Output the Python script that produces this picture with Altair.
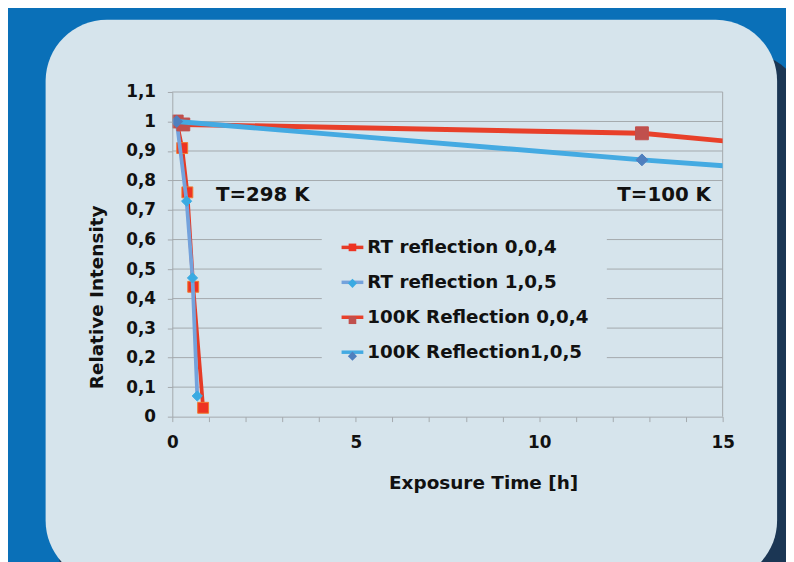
import altair as alt
import pandas as pd

# ---------------- data ----------------
series_names = ["RT reflection 0,0,4", "RT reflection 1,0,5",
                "100K Reflection 0,0,4", "100K Reflection1,0,5"]

rt004_x = [0.12, 0.27, 0.41, 0.57, 0.84]
rt004_y = [1.0, 0.91, 0.76, 0.44, 0.03]
rt105_x = [0.12, 0.39, 0.55, 0.68]
rt105_y = [1.0, 0.73, 0.47, 0.07]
k004_x = [0.12, 0.30, 12.8, 24.0]
k004_y = [1.0, 0.99, 0.96, 0.83]
k105_x = [0.12, 12.8, 24.0]
k105_y = [1.0, 0.87, 0.77]

y_ticks = [round(i * 0.1, 1) for i in range(12)]
x_ticks = list(range(16))

ann_text = ["T=298 K", "T=100 K"]
ann_x = [1.19, 14.68]
ann_y = [0.751, 0.751]

# ---------------- styles ----------------
FONT = "DejaVu Sans"
TXT = "#111111"
GRID = "#a4a9ad"
PANEL = "#d6e4ec"
BLUE_BG = "#0a70b8"
SHADOW = "#1b3654"
line_colors = ["#e63b26", "#74a2dc", "#e8402a", "#44aae2"]
marker_colors = ["#ee3322", "#3aaae2", "#c0504d", "#4f7fbe"]
marker_strokes = ["#f07a30", "#3aaae2", "#c0504d", "#4f7fbe"]
SQ = "M-0.35,-0.35H0.35V0.35H-0.35Z"
DI = "M0,-0.42L0.42,0L0,0.42L-0.42,0Z"
shapes = [SQ, DI, SQ, DI]
marker_names = [s + " " for s in series_names]

rows = []
for name, xs, ys in zip(series_names, [rt004_x, rt105_x, k004_x, k105_x],
                        [rt004_y, rt105_y, k004_y, k105_y]):
    for xv, yv in zip(xs, ys):
        rows.append({"series": name, "marker": name + " ", "x": xv, "y": yv})
df = pd.DataFrame(rows)
df_ann = pd.DataFrame({"t": ann_text, "x": ann_x, "y": ann_y})
df_grid = pd.DataFrame({"v": y_ticks[1:]})
dummy = pd.DataFrame({"a": [0]})

x_scale = alt.Scale(domain=[0, 15], nice=False, zero=False)
y_scale = alt.Scale(domain=[0, 1.1], nice=False)

x_axis = alt.Axis(values=x_ticks,
                  labelExpr="datum.value % 5 == 0 ? datum.label : ''",
                  grid=False, tickSize=5, tickColor=GRID, domainColor=GRID,
                  labelFont=FONT, labelFontSize=17, labelFontWeight="bold",
                  labelColor=TXT, labelPadding=13, labelFlush=False,
                  labelOverlap=False,
                  title="Exposure Time [h]", titleFont=FONT, titleFontSize=18.6,
                  titleFontWeight="bold", titleColor=TXT, titleX=314,
                  titleY=67, titleBaseline="middle", titleAlign="center",
                  zindex=1)
y_axis = alt.Axis(values=y_ticks,
                  labelExpr="replace(format(datum.value, '~g'), '.', ',')",
                  grid=False, tickSize=5, tickColor=GRID, domainColor=GRID,
                  labelFont=FONT, labelFontSize=17, labelFontWeight="bold",
                  labelColor=TXT, labelPadding=12, labelOverlap=False,
                  title="Relative Intensity", titleFont=FONT, titleFontSize=18.6,
                  titleFontWeight="bold", titleColor=TXT, titleX=-77,
                  titleY=207, titleBaseline="middle", titleAlign="center",
                  zindex=1)

legend_common = dict(orient="none", legendX=151, legendY=126, title=None,
                     symbolSize=484, symbolStrokeWidth=3.5, labelFont=FONT,
                     labelFontSize=18.5, labelFontWeight="bold",
                     rowPadding=12.3, labelOffset=2, padding=18,
                     labelLimit=500)
legend_a = alt.Legend(symbolType="stroke", labelColor=TXT, fillColor=PANEL,
                      zindex=1, **legend_common)
legend_b = alt.Legend(labelExpr="' '", symbolStrokeColor="transparent",
                      zindex=2, **legend_common)

X = alt.X("x:Q", scale=x_scale, axis=x_axis)
Y = alt.Y("y:Q", scale=y_scale, axis=y_axis)
STROKE = alt.Stroke("series:N", scale=alt.Scale(domain=series_names,
                                                range=line_colors),
                    legend=legend_a)
FILL = alt.Fill("marker:N", scale=alt.Scale(domain=marker_names,
                                            range=marker_colors),
                legend=legend_b)
SHAPE = alt.Shape("marker:N", scale=alt.Scale(domain=marker_names,
                                              range=shapes),
                  legend=legend_b)

shadow = alt.Chart(dummy).mark_rect(cornerRadius=62, fill=SHADOW).encode(
    x=alt.value(-116), x2=alt.value(640), y=alt.value(-40), y2=alt.value(520))
panel = alt.Chart(dummy).mark_rect(cornerRadius=62, fill=PANEL).encode(
    x=alt.value(-128), x2=alt.value(611), y=alt.value(-73), y2=alt.value(495))

grid = alt.Chart(df_grid).mark_rule(color=GRID, strokeWidth=1).encode(
    y=alt.Y("v:Q", scale=y_scale, axis=y_axis),
    x=alt.XDatum(0, scale=x_scale, axis=x_axis, type="quantitative"),
    x2=alt.X2Datum(15))
border = alt.Chart(dummy).mark_rule(color=GRID, strokeWidth=1).encode(
    x=alt.XDatum(15, scale=x_scale, axis=x_axis, type="quantitative"),
    y=alt.YDatum(0, scale=y_scale, axis=y_axis, type="quantitative"),
    y2=alt.Y2Datum(1.1))

layers = [shadow, panel, grid, border]
widths = [3.8, 3.8, 5, 5]
sizes = [990, 600, 1380, 820]
base = alt.Chart(df)
for name, w, s, sc in zip(series_names, widths, sizes, marker_strokes):
    ln = base.transform_filter(alt.datum.series == name).mark_line(
        strokeWidth=w, clip=True).encode(x=X, y=Y, stroke=STROKE)
    pt = base.transform_filter(alt.datum.series == name).mark_point(
        filled=True, size=s, opacity=1, clip=True, stroke=sc,
        strokeWidth=1).encode(x=X, y=Y, fill=FILL, shape=SHAPE)
    layers += [ln, pt]

ann_l = alt.Chart(df_ann).transform_filter(alt.datum.t == ann_text[0]).mark_text(
    align="left", baseline="middle", font=FONT, fontSize=20,
    fontWeight="bold", color=TXT).encode(x=X, y=Y, text="t:N")
ann_r = alt.Chart(df_ann).transform_filter(alt.datum.t == ann_text[1]).mark_text(
    align="right", baseline="middle", font=FONT, fontSize=20,
    fontWeight="bold", color=TXT).encode(x=X, y=Y, text="t:N")
layers += [ann_l, ann_r]

chart = alt.layer(*layers).properties(
    width=556, height=328,
    autosize=alt.AutoSizeParams(type="none"),
    padding={"left": 166, "top": 82, "right": 64, "bottom": 144},
    background=BLUE_BG,
).configure_view(stroke=None)

chart.save("out.html", embed_options={"renderer": "svg", "actions": False})
